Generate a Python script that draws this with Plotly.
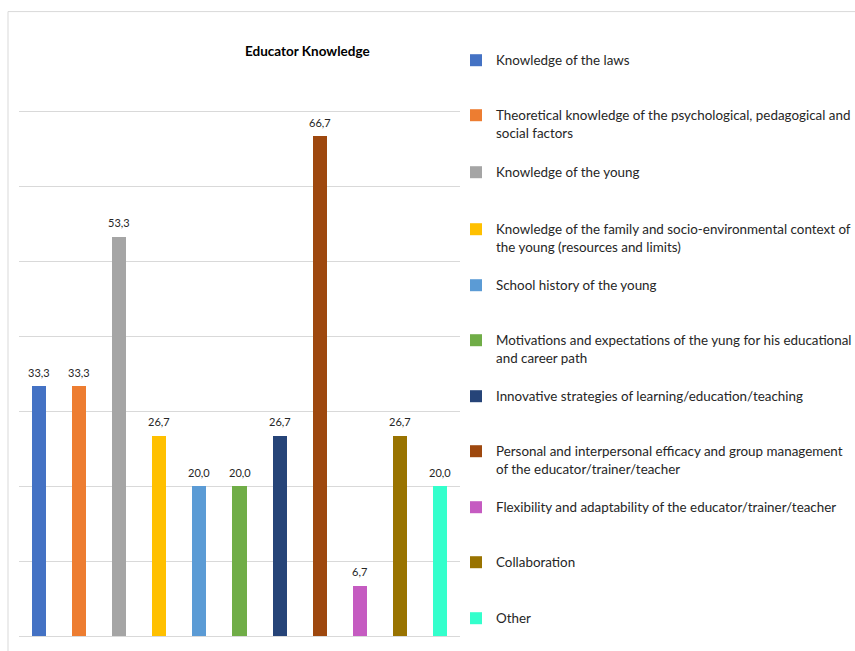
import plotly.graph_objects as go

# ---- data ----
categories = [
    "Knowledge of the laws",
    "Theoretical knowledge of the psychological, pedagogical and<br>social factors",
    "Knowledge of the young",
    "Knowledge of the family and socio-environmental context of<br>the young (resources and limits)",
    "School history of the young",
    "Motivations and expectations of the yung for his educational<br>and career path",
    "Innovative strategies of learning/education/teaching",
    "Personal and interpersonal efficacy and group management<br>of the educator/trainer/teacher",
    "Flexibility and adaptability of the educator/trainer/teacher",
    "Collaboration",
    "Other",
]
values = [33.3, 33.3, 53.3, 26.7, 20.0, 20.0, 26.7, 66.7, 6.7, 26.7, 20.0]
colors = ["#4472C4", "#ED7D31", "#A5A5A5", "#FFC000", "#5B9BD5", "#70AD47",
          "#264478", "#9E480E", "#C55BC1", "#997300", "#33FFCC"]
title_text = "Educator Knowledge"

# ---- layout settings ----
W, H = 855, 651
legend_line_y = [60, 115, 172, 229, 285, 340, 396, 451, 507, 562, 618]  # px, first-line centre
FONT = "Lato"
TXT = "#262626"
YMAX = 70

fig = go.Figure()
for i, (name, v, c) in enumerate(zip(categories, values, colors)):
    lg = "legend" if i == 0 else f"legend{i+1}"
    fig.add_trace(go.Bar(
        x=[i], y=[v], name=name, marker=dict(color=c, line=dict(width=0)),
        width=0.35, legend=lg, hoverinfo="y",
    ))

labels = [dict(
    x=i, y=v, xref="x", yref="y", text=f"{v:.1f}".replace(".", ","),
    showarrow=False, yanchor="middle", xanchor="center", yshift=14,
    font=dict(family=FONT, size=11, color=TXT),
) for i, v in enumerate(values)]

legends = {}
for i, py in enumerate(legend_line_y):
    key = "legend" if i == 0 else f"legend{i+1}"
    legends[key] = dict(
        xref="container", yref="container", x=456 / W, y=1 - (py - 15) / H,
        xanchor="left", yanchor="top", valign="top",
        font=dict(family=FONT, size=13.4, color=TXT),
        bgcolor="rgba(0,0,0,0)", borderwidth=0, itemclick=False,
    )

fig.update_layout(
    width=W, height=H,
    margin=dict(l=19, r=W - 460, t=111 - 0.2 * 7.5, b=15, autoexpand=False),
    paper_bgcolor="white", plot_bgcolor="white",
    bargap=0, barmode="overlay", showlegend=True,
    xaxis=dict(range=[-0.5, len(values) - 0.5], visible=False, fixedrange=True),
    yaxis=dict(range=[0, YMAX + 0.2], tick0=0, dtick=10, showticklabels=False, showgrid=True,
               gridcolor="#D9D9D9", gridwidth=1, zeroline=True,
               zerolinecolor="#D9D9D9", zerolinewidth=1, showline=False,
               fixedrange=True),
    annotations=labels + [dict(
        text=f"<b>{title_text}</b>", xref="paper", yref="paper",
        x=(307 - 19) / 441, y=(636 - 50) / 526.5, xanchor="center", yanchor="middle",
        showarrow=False, font=dict(family=FONT, size=13.5, color="#000000"),
    )],
    shapes=[
        dict(type="line", xref="paper", yref="paper",
             x0=(8 - 19) / 441, x1=(870 - 19) / 441,
             y0=(636 - 11) / 526.5, y1=(636 - 11) / 526.5,
             line=dict(color="#D9D9D9", width=1)),
        dict(type="line", xref="paper", yref="paper",
             x0=(8 - 19) / 441, x1=(8 - 19) / 441,
             y0=(636 - 11) / 526.5, y1=(636 - 670) / 526.5,
             line=dict(color="#D9D9D9", width=1)),
    ],
    **legends,
)

fig.write_html("out.html")
